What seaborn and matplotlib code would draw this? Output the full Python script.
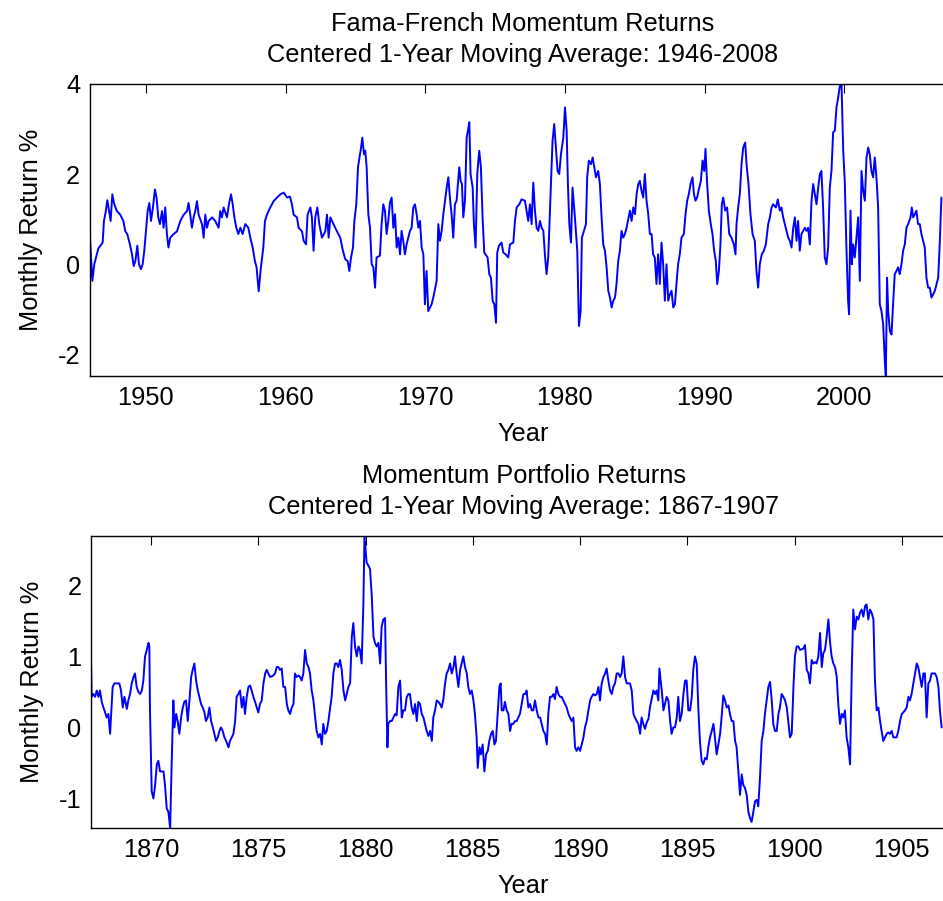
import numpy as np
import matplotlib
matplotlib.use("Agg")
import matplotlib.pyplot as plt
import seaborn as sns

# Fama-French momentum, centered 1-year moving average
ff_years = [
    1946.00, 1946.17, 1946.31, 1946.60, 1946.91, 1947.00, 1947.12, 1947.24, 1947.36, 1947.48,
    1947.60, 1947.74, 1947.93, 1948.17, 1948.39, 1948.53, 1948.67, 1948.86, 1949.01, 1949.13,
    1949.25, 1949.39, 1949.51, 1949.65, 1949.77, 1949.89, 1950.01, 1950.13, 1950.25, 1950.37,
    1950.51, 1950.65, 1950.77, 1950.89, 1951.01, 1951.16, 1951.27, 1951.39, 1951.51, 1951.62,
    1951.75, 1951.99, 1952.23, 1952.47, 1952.71, 1952.95, 1953.06, 1953.18, 1953.30, 1953.42,
    1953.54, 1953.66, 1953.78, 1954.02, 1954.14, 1954.26, 1954.38, 1954.50, 1954.74, 1954.97,
    1955.21, 1955.33, 1955.45, 1955.57, 1955.81, 1955.95, 1956.10, 1956.22, 1956.34, 1956.48,
    1956.62, 1956.77, 1956.93, 1957.12, 1957.34, 1957.48, 1957.65, 1957.81, 1957.93, 1958.08,
    1958.24, 1958.41, 1958.53, 1958.67, 1958.91, 1959.15, 1959.39, 1959.63, 1959.87, 1960.11,
    1960.32, 1960.46, 1960.58, 1960.82, 1960.94, 1961.18, 1961.30, 1961.47, 1961.58, 1961.78,
    1961.89, 1962.01, 1962.13, 1962.28, 1962.42, 1962.61, 1962.85, 1962.97, 1963.09, 1963.21,
    1963.44, 1963.68, 1963.92, 1964.11, 1964.28, 1964.45, 1964.57, 1964.69, 1964.83, 1964.93,
    1965.07, 1965.19, 1965.33, 1965.38, 1965.50, 1965.62, 1965.71, 1965.81, 1965.93, 1966.05,
    1966.17, 1966.29, 1966.41, 1966.52, 1966.76, 1966.88, 1967.00, 1967.12, 1967.24, 1967.36,
    1967.48, 1967.60, 1967.72, 1967.84, 1967.96, 1968.08, 1968.20, 1968.31, 1968.43, 1968.55,
    1968.67, 1968.91, 1969.03, 1969.15, 1969.27, 1969.39, 1969.51, 1969.63, 1969.75, 1969.87,
    1969.98, 1970.10, 1970.22, 1970.46, 1970.58, 1970.82, 1970.94, 1971.06, 1971.18, 1971.30,
    1971.42, 1971.54, 1971.66, 1971.77, 1971.89, 1972.01, 1972.13, 1972.25, 1972.44, 1972.54,
    1972.63, 1972.73, 1972.85, 1972.97, 1973.06, 1973.16, 1973.25, 1973.40, 1973.49, 1973.61,
    1973.73, 1973.87, 1973.99, 1974.11, 1974.23, 1974.47, 1974.59, 1974.71, 1974.83, 1974.95,
    1975.07, 1975.16, 1975.28, 1975.47, 1975.59, 1975.76, 1975.95, 1976.07, 1976.31, 1976.43,
    1976.55, 1976.74, 1976.90, 1977.14, 1977.26, 1977.38, 1977.50, 1977.62, 1977.74, 1977.86,
    1977.98, 1978.10, 1978.22, 1978.34, 1978.46, 1978.57, 1978.69, 1978.81, 1978.98, 1979.12,
    1979.24, 1979.36, 1979.48, 1979.60, 1979.72, 1979.89, 1980.01, 1980.13, 1980.22, 1980.32,
    1980.44, 1980.55, 1980.72, 1980.89, 1981.01, 1981.13, 1981.22, 1981.37, 1981.51, 1981.60,
    1981.72, 1981.87, 1981.99, 1982.11, 1982.23, 1982.39, 1982.51, 1982.63, 1982.75, 1982.87,
    1982.99, 1983.11, 1983.23, 1983.35, 1983.47, 1983.59, 1983.70, 1983.82, 1983.94, 1984.06,
    1984.18, 1984.30, 1984.42, 1984.66, 1984.78, 1984.90, 1985.02, 1985.14, 1985.26, 1985.37,
    1985.49, 1985.61, 1985.73, 1985.85, 1985.97, 1986.09, 1986.21, 1986.32, 1986.44, 1986.56,
    1986.68, 1986.80, 1986.92, 1987.04, 1987.16, 1987.28, 1987.40, 1987.52, 1987.64, 1987.76,
    1987.88, 1987.99, 1988.11, 1988.23, 1988.35, 1988.52, 1988.64, 1988.76, 1988.88, 1989.00,
    1989.14, 1989.24, 1989.35, 1989.47, 1989.62, 1989.74, 1989.86, 1989.98, 1990.07, 1990.19,
    1990.31, 1990.45, 1990.57, 1990.69, 1990.81, 1990.91, 1991.03, 1991.14, 1991.24, 1991.34,
    1991.48, 1991.62, 1991.77, 1991.93, 1992.10, 1992.22, 1992.29, 1992.41, 1992.53, 1992.65,
    1992.77, 1992.91, 1993.01, 1993.15, 1993.29, 1993.44, 1993.60, 1993.72, 1993.84, 1993.96,
    1994.10, 1994.25, 1994.39, 1994.56, 1994.68, 1994.80, 1994.91, 1995.11, 1995.25, 1995.39,
    1995.51, 1995.63, 1995.87, 1995.99, 1996.11, 1996.23, 1996.35, 1996.47, 1996.59, 1996.70,
    1996.82, 1996.94, 1997.06, 1997.18, 1997.30, 1997.42, 1997.54, 1997.66, 1997.78, 1997.90,
    1998.02, 1998.14, 1998.26, 1998.37, 1998.49, 1998.61, 1998.73, 1998.85, 1998.97, 1999.09,
    1999.21, 1999.33, 1999.45, 1999.57, 1999.69, 1999.81, 1999.93, 2000.04, 2000.16, 2000.28,
    2000.35, 2000.45, 2000.55, 2000.64, 2000.76, 2000.88, 2001.00, 2001.12, 2001.24, 2001.36,
    2001.48, 2001.60, 2001.72, 2001.83, 2001.95, 2002.07, 2002.19, 2002.31, 2002.43, 2002.55,
    2002.67, 2002.79, 2002.91, 2002.98, 2003.07, 2003.15, 2003.27, 2003.39, 2003.50, 2003.62,
    2003.74, 2003.86, 2003.98, 2004.10, 2004.22, 2004.34, 2004.46, 2004.58, 2004.75, 2004.84,
    2004.94, 2005.06, 2005.17, 2005.29, 2005.41, 2005.53, 2005.65, 2005.77, 2005.89, 2006.01,
    2006.13, 2006.25, 2006.37, 2006.49, 2006.61, 2006.73, 2006.85, 2006.96,
]
ff_returns = [
    0.60, -0.37, 0.00, 0.35, 0.48, 0.96, 1.15, 1.42, 1.20, 0.96,
    1.55, 1.33, 1.18, 1.10, 0.96, 0.73, 0.67, 0.44, 0.22, -0.04,
    0.07, 0.41, 0.00, -0.11, 0.00, 0.30, 0.73, 1.18, 1.36, 0.96,
    1.26, 1.66, 1.47, 1.04, 0.89, 1.18, 0.81, 1.26, 0.67, 0.37,
    0.59, 0.67, 0.73, 0.96, 1.10, 1.18, 1.36, 1.10, 0.81, 1.04,
    1.18, 1.40, 1.10, 0.89, 0.59, 1.10, 0.81, 0.96, 1.04, 0.96,
    0.81, 1.18, 1.04, 1.26, 1.04, 1.33, 1.55, 1.33, 1.04, 0.81,
    0.67, 0.81, 0.67, 0.89, 0.81, 0.59, 0.37, 0.07, -0.07, -0.60,
    -0.07, 0.37, 0.96, 1.10, 1.26, 1.40, 1.48, 1.55, 1.59, 1.48,
    1.50, 1.33, 1.10, 1.04, 0.81, 0.73, 0.52, 0.44, 1.10, 1.26,
    1.04, 0.30, 1.04, 1.26, 0.89, 0.59, 0.73, 1.10, 0.59, 1.04,
    0.89, 0.73, 0.59, 0.30, 0.11, 0.07, -0.15, 0.15, 0.37, 0.96,
    1.33, 2.15, 2.44, 2.52, 2.81, 2.44, 2.52, 2.15, 1.11, 0.81,
    0.00, -0.07, -0.52, 0.15, 0.19, 0.89, 1.33, 1.19, 0.67, 0.96,
    1.37, 1.48, 0.81, 1.11, 0.37, 0.59, 0.22, 0.74, 0.52, 0.22,
    0.44, 0.74, 0.81, 1.26, 1.33, 1.11, 0.81, 0.96, 0.37, 0.22,
    -0.89, -0.15, -1.04, -0.89, -0.74, -0.37, 0.89, 0.52, 0.74, 1.11,
    1.41, 1.70, 1.93, 1.48, 1.11, 0.59, 1.33, 1.41, 2.15, 1.85,
    1.78, 1.04, 1.41, 2.81, 2.96, 3.15, 2.00, 1.70, 0.89, 0.37,
    2.00, 2.52, 2.15, 1.04, 0.26, 0.15, -0.22, -0.30, -0.81, -0.89,
    -1.30, 0.26, 0.41, 0.48, 0.26, 0.22, 0.15, 0.44, 0.48, 0.96,
    1.26, 1.33, 1.44, 1.41, 1.19, 0.96, 1.33, 0.89, 1.81, 1.19,
    0.81, 0.74, 0.96, 0.81, 0.74, 0.22, -0.22, 0.15, 1.56, 2.74,
    3.11, 2.59, 2.07, 2.00, 2.44, 2.81, 3.48, 2.96, 1.78, 0.89,
    0.48, 1.70, 1.04, 0.30, -1.37, -1.04, 0.59, 0.74, 0.89, 1.93,
    2.30, 2.22, 2.37, 2.15, 1.93, 2.07, 1.78, 1.04, 0.44, 0.30,
    -0.07, -0.59, -0.74, -0.96, -0.81, -0.74, -0.44, 0.07, 0.30, 0.74,
    0.59, 0.67, 0.81, 1.19, 0.96, 1.26, 1.11, 1.56, 1.78, 1.85,
    1.63, 1.48, 2.00, 1.41, 1.11, 0.67, 0.67, 0.22, 0.15, -0.44,
    0.22, -0.44, 0.48, 0.00, -0.81, 0.00, -0.81, -0.67, -0.59, -0.96,
    -0.89, -0.44, 0.00, 0.22, 0.59, 0.67, 1.11, 1.41, 1.56, 1.78,
    1.93, 1.56, 1.41, 1.48, 1.70, 1.85, 2.30, 2.07, 2.56, 1.78,
    1.19, 0.89, 0.67, 0.30, 0.07, -0.44, -0.15, 0.44, 1.33, 1.48,
    1.19, 1.26, 0.67, 0.59, 0.44, 0.22, 0.89, 1.26, 1.56, 2.22,
    2.59, 2.70, 2.22, 1.78, 1.11, 0.67, 0.52, -0.15, -0.52, 0.00,
    0.22, 0.30, 0.44, 0.89, 1.04, 1.26, 1.33, 1.26, 1.44, 1.19,
    1.26, 1.04, 0.74, 0.59, 0.52, 0.37, 0.81, 1.04, 0.52, 0.96,
    0.30, 0.67, 0.74, 0.81, 0.74, 0.81, 0.44, 1.41, 1.78, 1.56,
    1.33, 1.70, 2.00, 2.07, 1.26, 0.15, 0.00, 0.37, 1.70, 2.07,
    2.93, 2.96, 3.48, 3.70, 3.96, 4.00, 2.52, 1.85, 0.37, -0.81,
    -1.11, 1.19, 0.00, 0.44, 0.15, 0.59, 1.04, -0.37, 2.07, 1.63,
    1.41, 2.37, 2.59, 2.44, 2.07, 1.93, 2.37, 1.93, 1.26, -0.89,
    -1.04, -1.33, -2.15, -2.48, -0.30, -1.04, -1.48, -1.56, -0.89, -0.22,
    -0.15, -0.07, -0.22, 0.00, 0.30, 0.44, 0.81, 0.89, 1.04, 1.26,
    1.04, 1.11, 1.19, 0.89, 0.89, 0.67, 0.52, 0.37, -0.30, -0.52,
    -0.52, -0.74, -0.67, -0.59, -0.44, -0.30, 0.52, 1.48,
]

# 19th-century momentum portfolio, centered 1-year moving average
hist_years = [
    1867.20, 1867.23, 1867.31, 1867.39, 1867.47, 1867.55, 1867.62, 1867.70, 1867.78, 1867.86,
    1867.93, 1868.01, 1868.09, 1868.14, 1868.21, 1868.29, 1868.40, 1868.52, 1868.60, 1868.68,
    1868.76, 1868.87, 1868.94, 1869.02, 1869.10, 1869.18, 1869.25, 1869.33, 1869.41, 1869.49,
    1869.57, 1869.64, 1869.72, 1869.80, 1869.88, 1869.92, 1869.95, 1870.03, 1870.11, 1870.19,
    1870.27, 1870.34, 1870.42, 1870.58, 1870.65, 1870.73, 1870.81, 1870.89, 1870.96, 1871.04,
    1871.09, 1871.17, 1871.24, 1871.32, 1871.40, 1871.48, 1871.55, 1871.63, 1871.71, 1871.79,
    1871.87, 1871.94, 1872.02, 1872.10, 1872.18, 1872.25, 1872.33, 1872.41, 1872.49, 1872.56,
    1872.64, 1872.72, 1872.80, 1872.88, 1872.95, 1873.03, 1873.11, 1873.19, 1873.26, 1873.34,
    1873.42, 1873.50, 1873.61, 1873.68, 1873.76, 1873.84, 1873.92, 1873.99, 1874.07, 1874.15,
    1874.23, 1874.31, 1874.38, 1874.46, 1874.54, 1874.62, 1874.69, 1874.77, 1874.85, 1874.93,
    1875.00, 1875.08, 1875.16, 1875.24, 1875.32, 1875.39, 1875.47, 1875.55, 1875.70, 1875.78,
    1875.86, 1875.94, 1876.01, 1876.09, 1876.17, 1876.25, 1876.33, 1876.40, 1876.48, 1876.56,
    1876.64, 1876.71, 1876.79, 1876.87, 1876.95, 1877.02, 1877.10, 1877.18, 1877.26, 1877.34,
    1877.41, 1877.49, 1877.57, 1877.65, 1877.72, 1877.80, 1877.88, 1877.96, 1878.03, 1878.11,
    1878.19, 1878.27, 1878.35, 1878.42, 1878.50, 1878.58, 1878.66, 1878.73, 1878.81, 1878.89,
    1878.97, 1879.05, 1879.12, 1879.20, 1879.28, 1879.36, 1879.43, 1879.51, 1879.59, 1879.67,
    1879.74, 1879.82, 1879.90, 1879.95, 1880.01, 1880.05, 1880.13, 1880.21, 1880.29, 1880.37,
    1880.44, 1880.52, 1880.60, 1880.68, 1880.75, 1880.83, 1880.91, 1880.96, 1881.02, 1881.06,
    1881.14, 1881.22, 1881.30, 1881.38, 1881.45, 1881.53, 1881.61, 1881.69, 1881.76, 1881.84,
    1881.92, 1882.00, 1882.07, 1882.15, 1882.23, 1882.31, 1882.39, 1882.46, 1882.54, 1882.62,
    1882.70, 1882.77, 1882.85, 1882.93, 1883.01, 1883.09, 1883.16, 1883.24, 1883.32, 1883.40,
    1883.47, 1883.55, 1883.63, 1883.71, 1883.78, 1883.86, 1883.94, 1884.02, 1884.10, 1884.17,
    1884.25, 1884.33, 1884.41, 1884.48, 1884.56, 1884.64, 1884.72, 1884.79, 1884.87, 1884.95,
    1885.03, 1885.10, 1885.18, 1885.23, 1885.31, 1885.38, 1885.46, 1885.54, 1885.62, 1885.70,
    1885.77, 1885.85, 1885.93, 1886.01, 1886.08, 1886.16, 1886.24, 1886.30, 1886.35, 1886.43,
    1886.50, 1886.58, 1886.66, 1886.74, 1886.81, 1886.89, 1886.97, 1887.05, 1887.12, 1887.20,
    1887.28, 1887.36, 1887.44, 1887.51, 1887.59, 1887.67, 1887.75, 1887.82, 1887.90, 1887.98,
    1888.06, 1888.14, 1888.21, 1888.29, 1888.37, 1888.45, 1888.52, 1888.60, 1888.68, 1888.76,
    1888.83, 1888.91, 1888.99, 1889.07, 1889.15, 1889.22, 1889.30, 1889.38, 1889.46, 1889.53,
    1889.61, 1889.69, 1889.77, 1889.84, 1889.92, 1890.00, 1890.08, 1890.16, 1890.23, 1890.31,
    1890.39, 1890.47, 1890.54, 1890.62, 1890.70, 1890.78, 1890.86, 1890.93, 1891.01, 1891.09,
    1891.17, 1891.24, 1891.32, 1891.40, 1891.48, 1891.55, 1891.63, 1891.71, 1891.79, 1891.87,
    1891.94, 1892.02, 1892.10, 1892.18, 1892.25, 1892.33, 1892.41, 1892.49, 1892.56, 1892.64,
    1892.72, 1892.80, 1892.87, 1892.95, 1893.03, 1893.11, 1893.19, 1893.26, 1893.34, 1893.42,
    1893.50, 1893.57, 1893.65, 1893.70, 1893.76, 1893.81, 1893.89, 1893.96, 1894.04, 1894.12,
    1894.20, 1894.27, 1894.35, 1894.43, 1894.51, 1894.58, 1894.66, 1894.74, 1894.82, 1894.90,
    1894.97, 1895.05, 1895.13, 1895.21, 1895.28, 1895.36, 1895.44, 1895.52, 1895.59, 1895.67,
    1895.75, 1895.83, 1895.91, 1895.98, 1896.06, 1896.14, 1896.22, 1896.29, 1896.37, 1896.45,
    1896.53, 1896.60, 1896.68, 1896.76, 1896.84, 1896.92, 1896.99, 1897.07, 1897.15, 1897.23,
    1897.30, 1897.38, 1897.46, 1897.54, 1897.61, 1897.69, 1897.77, 1897.85, 1897.93, 1898.00,
    1898.08, 1898.16, 1898.24, 1898.31, 1898.39, 1898.47, 1898.55, 1898.62, 1898.70, 1898.78,
    1898.86, 1898.94, 1899.01, 1899.09, 1899.17, 1899.25, 1899.32, 1899.40, 1899.48, 1899.56,
    1899.64, 1899.71, 1899.79, 1899.87, 1899.95, 1900.02, 1900.10, 1900.18, 1900.26, 1900.41,
    1900.49, 1900.57, 1900.65, 1900.72, 1900.80, 1900.88, 1900.96, 1901.03, 1901.11, 1901.19,
    1901.27, 1901.34, 1901.42, 1901.50, 1901.58, 1901.66, 1901.73, 1901.81, 1901.89, 1901.97,
    1902.04, 1902.12, 1902.20, 1902.28, 1902.35, 1902.43, 1902.51, 1902.59, 1902.67, 1902.74,
    1902.82, 1902.90, 1902.98, 1903.05, 1903.13, 1903.21, 1903.29, 1903.36, 1903.44, 1903.52,
    1903.60, 1903.68, 1903.75, 1903.83, 1903.91, 1903.99, 1904.06, 1904.14, 1904.22, 1904.30,
    1904.37, 1904.45, 1904.53, 1904.61, 1904.69, 1904.76, 1904.84, 1904.92, 1905.00, 1905.07,
    1905.15, 1905.23, 1905.31, 1905.38, 1905.46, 1905.54, 1905.62, 1905.70, 1905.77, 1905.85,
    1905.93, 1906.01, 1906.08, 1906.16, 1906.24, 1906.32, 1906.39, 1906.47, 1906.55, 1906.63,
    1906.71, 1906.78, 1906.86,
]
hist_returns = [
    0.95, 0.43, 0.47, 0.43, 0.52, 0.43, 0.52, 0.36, 0.28, 0.21,
    0.14, 0.19, -0.09, 0.19, 0.57, 0.62, 0.62, 0.62, 0.52, 0.28,
    0.43, 0.26, 0.38, 0.47, 0.62, 0.71, 0.76, 0.57, 0.50, 0.47,
    0.52, 0.66, 1.00, 1.09, 1.19, 1.14, 0.24, -0.90, -1.00, -0.81,
    -0.52, -0.47, -0.62, -0.62, -0.81, -1.14, -1.19, -1.42, -0.52, 0.38,
    0.00, 0.19, 0.09, -0.09, 0.14, 0.28, 0.36, 0.38, 0.09, 0.38,
    0.71, 0.81, 0.90, 0.66, 0.52, 0.43, 0.33, 0.28, 0.21, 0.09,
    0.14, 0.28, 0.09, 0.00, -0.09, -0.19, -0.14, -0.05, 0.00, -0.05,
    -0.14, -0.19, -0.28, -0.19, -0.14, -0.09, 0.09, 0.43, 0.47, 0.52,
    0.28, 0.43, 0.19, 0.43, 0.57, 0.59, 0.52, 0.43, 0.36, 0.28,
    0.21, 0.33, 0.38, 0.62, 0.76, 0.81, 0.76, 0.71, 0.73, 0.76,
    0.85, 0.85, 0.81, 0.83, 0.57, 0.57, 0.33, 0.24, 0.19, 0.28,
    0.33, 0.76, 0.71, 0.73, 0.71, 0.66, 0.76, 1.09, 0.90, 0.85,
    0.76, 0.52, 0.38, 0.14, -0.05, -0.14, -0.09, -0.24, 0.05, -0.09,
    -0.05, 0.09, 0.28, 0.43, 0.76, 0.90, 0.90, 0.85, 0.95, 0.81,
    0.52, 0.38, 0.47, 0.57, 0.62, 1.28, 1.47, 1.14, 1.00, 1.14,
    1.09, 0.90, 1.75, 2.70, 2.47, 2.32, 2.28, 2.23, 1.85, 1.28,
    1.19, 1.14, 1.19, 0.90, 1.42, 1.52, 1.54, 0.62, -0.28, 0.05,
    0.09, 0.09, 0.14, 0.19, 0.17, 0.57, 0.66, 0.14, 0.24, 0.24,
    0.43, 0.47, 0.47, 0.28, 0.19, 0.33, 0.09, 0.36, 0.33, 0.19,
    0.14, 0.05, -0.05, -0.12, -0.05, -0.19, 0.14, 0.24, 0.38, 0.36,
    0.33, 0.28, 0.40, 0.62, 0.76, 0.81, 0.90, 0.76, 0.85, 1.00,
    0.76, 0.57, 0.81, 0.90, 1.00, 0.85, 0.76, 0.57, 0.47, 0.52,
    0.38, 0.19, -0.14, -0.57, -0.28, -0.38, -0.24, -0.62, -0.38, -0.33,
    -0.19, -0.09, -0.05, -0.24, -0.19, 0.19, 0.57, 0.62, 0.24, 0.24,
    0.36, 0.24, 0.19, -0.05, 0.05, 0.05, 0.09, 0.09, 0.14, 0.19,
    0.33, 0.47, 0.47, 0.52, 0.28, 0.33, 0.24, 0.24, 0.38, 0.24,
    0.14, 0.14, 0.05, -0.05, -0.09, -0.24, 0.19, 0.43, 0.43, 0.47,
    0.40, 0.57, 0.47, 0.43, 0.43, 0.38, 0.33, 0.28, 0.19, 0.14,
    0.09, 0.14, -0.28, -0.33, -0.28, -0.33, -0.24, -0.14, 0.00, 0.09,
    0.24, 0.38, 0.43, 0.47, 0.45, 0.47, 0.57, 0.38, 0.62, 0.71,
    0.76, 0.83, 0.66, 0.52, 0.47, 0.57, 0.62, 0.76, 0.76, 0.71,
    0.76, 1.00, 0.71, 0.62, 0.62, 0.62, 0.52, 0.19, 0.14, 0.09,
    0.05, -0.09, 0.14, 0.05, -0.02, 0.07, 0.12, 0.28, 0.40, 0.52,
    0.47, 0.52, 0.38, 0.83, 0.66, 0.52, 0.24, 0.33, 0.43, 0.38,
    0.09, -0.09, 0.00, 0.00, 0.14, 0.43, 0.09, 0.19, 0.47, 0.66,
    0.66, 0.24, 0.24, 0.43, 0.81, 1.00, 0.90, 0.24, -0.19, -0.47,
    -0.52, -0.43, -0.45, -0.28, -0.14, -0.05, 0.05, -0.14, -0.38, -0.24,
    -0.09, 0.14, 0.45, 0.38, 0.28, 0.31, 0.19, 0.09, 0.09, -0.19,
    -0.28, -0.62, -0.95, -0.66, -0.81, -0.85, -0.95, -1.19, -1.28, -1.33,
    -1.19, -1.04, -1.02, -1.11, -0.71, -0.19, -0.05, 0.19, 0.38, 0.57,
    0.64, 0.38, 0.05, -0.05, -0.05, 0.19, 0.28, 0.47, 0.43, 0.38,
    0.28, 0.09, -0.14, -0.09, 0.57, 1.00, 1.14, 1.14, 1.09, 1.11,
    1.16, 0.81, 0.76, 0.62, 0.95, 0.90, 0.92, 0.90, 1.00, 1.33,
    0.85, 1.04, 1.09, 1.28, 1.52, 1.19, 1.00, 0.90, 0.85, 0.71,
    0.33, 0.05, 0.19, 0.14, 0.24, -0.14, -0.28, -0.52, 0.81, 1.66,
    1.38, 1.56, 1.52, 1.61, 1.66, 1.56, 1.71, 1.73, 1.52, 1.66,
    1.61, 1.52, 0.66, 0.24, 0.28, 0.09, -0.05, -0.19, -0.14, -0.09,
    -0.07, -0.09, -0.05, -0.14, -0.14, -0.14, -0.05, 0.09, 0.19, 0.21,
    0.24, 0.28, 0.43, 0.38, 0.47, 0.62, 0.76, 0.90, 0.85, 0.71,
    0.57, 0.76, 0.76, 0.14, 0.62, 0.66, 0.76, 0.76, 0.76, 0.71,
    0.57, 0.24, 0.00,
]

sns.set_theme(style="white")
plt.rcParams["font.family"] = ["Liberation Sans", "DejaVu Sans"]
plt.rcParams["axes.unicode_minus"] = False
plt.rcParams["text.color"] = "black"
plt.rcParams["axes.labelcolor"] = "black"

fig = plt.figure(figsize=(9.43, 9.01), dpi=100)
ax1 = fig.add_axes([0.0954, 0.5827, 0.9183, 0.3241])
ax2 = fig.add_axes([0.0965, 0.0807, 0.9173, 0.3248])

panels = [
    (ax1, ff_years, ff_returns, (1946, 2008), [-2, 0, 2, 4], range(1950, 2001, 10),
     "Fama-French Momentum Returns\nCentered 1-Year Moving Average: 1946-2008"),
    (ax2, hist_years, hist_returns, (1867.2, 1907.53), [-1, 0, 1, 2], range(1870, 1906, 5),
     "Momentum Portfolio Returns\nCentered 1-Year Moving Average: 1867-1907"),
]

for ax, xs, ys, xlim, yticks, xticks, title in panels:
    sns.lineplot(x=xs, y=ys, ax=ax, color="#0000ff", linewidth=1.4,
                 estimator=None, sort=False)
    ax.set_xlim(*xlim)
    ax.set_ylim(min(ys), max(ys))
    ax.set_yticks(yticks)
    ax.set_xticks(list(xticks))
    ax.tick_params(direction="in", length=6.5, width=0.8, top=True, right=True,
                   labelsize=18.3, pad=7, colors="black")
    for sp in ax.spines.values():
        sp.set_visible(True)
        sp.set_color("black")
        sp.set_linewidth(1.0)
    ax.set_title(title, fontsize=18.3, pad=15.5, linespacing=1.4, color="black")
    ax.set_xlabel("Year", fontsize=18.3, labelpad=8.5)
    ax.set_ylabel("Monthly Return %", fontsize=18.3, labelpad=10.5)
    ax.grid(False)

fig.savefig("out.png", dpi=100, facecolor="white")
